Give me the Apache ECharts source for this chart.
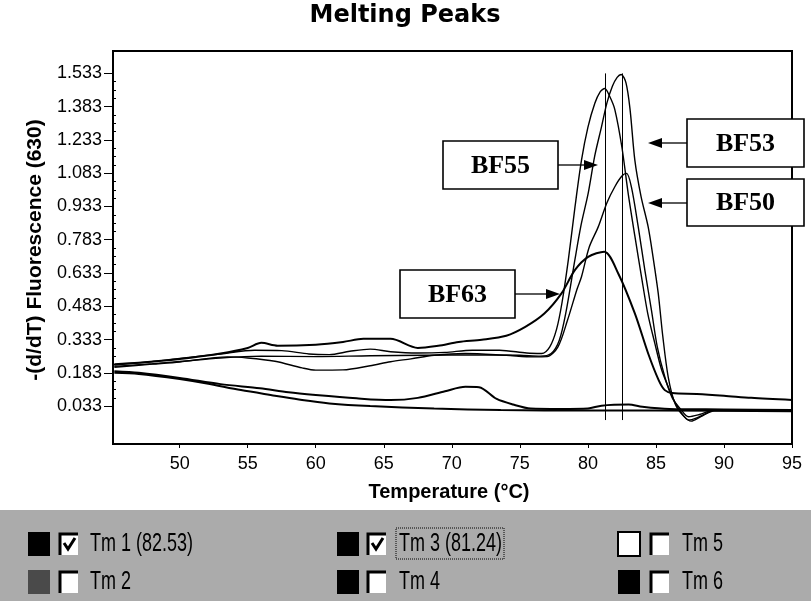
<!DOCTYPE html>
<html><head><meta charset="utf-8">
<script src="https://cdn.jsdelivr.net/npm/echarts@6/dist/echarts.min.js"></script>
<style>html,body{margin:0;padding:0;background:#fff}#c{width:811px;height:601px}</style>
</head><body><div id="c"></div>
<script>
// ---- data ----
const yTicks = [0.033, 0.183, 0.333, 0.483, 0.633, 0.783, 0.933, 1.083, 1.233, 1.383, 1.533];
const xTicks = [50, 55, 60, 65, 70, 75, 80, 85, 90, 95];
const tmValues = [82.53, 81.24];

const bf53 = [[45.2,0.212],[48,0.224],[50,0.234],[53,0.25],[56,0.258],[60,0.256],[64,0.26],[68,0.262],[72,0.264],[75,0.262],[76.5,0.258],[77.3,0.27],[77.9,0.33],[78.4,0.46],[79.04,0.691],[79.5,0.85],[80.02,0.992],[80.5,1.16],[81.0,1.292],[81.4,1.4],[81.8,1.475],[82.15,1.515],[82.45,1.528],[82.8,1.49],[83.1,1.37],[83.45,1.142],[83.9,0.98],[84.43,0.841],[84.8,0.7],[85.17,0.541],[85.5,0.35],[85.9,0.165],[86.4,0.045],[87,-0.01],[87.6,-0.035],[88.3,-0.015],[89.3,0.012],[92,0.012],[95,0.01]];
const bf55 = [[45.2,0.218],[48,0.234],[50,0.248],[53,0.268],[55.5,0.285],[57.5,0.283],[59.5,0.268],[61,0.265],[62.5,0.28],[64,0.29],[65.5,0.278],[67.5,0.272],[69.5,0.275],[71.5,0.285],[73.5,0.285],[75.5,0.272],[76.6,0.27],[77.2,0.3],[77.7,0.38],[78.1,0.5],[78.56,0.691],[79.05,0.93],[79.53,1.142],[80.0,1.29],[80.51,1.398],[80.9,1.45],[81.24,1.465],[81.6,1.43],[81.98,1.37],[82.5,1.2],[82.96,0.992],[83.45,0.8],[83.94,0.616],[84.4,0.45],[84.92,0.316],[85.4,0.2],[85.9,0.12],[86.4,0.05],[86.9,0.0],[87.4,-0.03],[88,-0.02],[88.7,0.0],[89.3,0.015],[92,0.015],[95,0.012]];
const bf50 = [[45.2,0.208],[48,0.222],[50,0.232],[53.5,0.255],[55,0.25],[57,0.235],[59,0.205],[60,0.195],[62,0.196],[64,0.215],[65.5,0.233],[67,0.246],[68.7,0.262],[71,0.27],[74,0.262],[76,0.255],[77,0.256],[77.8,0.3],[78.5,0.42],[79.2,0.56],[79.53,0.616],[80.1,0.75],[80.76,0.841],[81.4,0.95],[81.98,1.022],[82.5,1.07],[82.84,1.082],[83.2,1.02],[83.7,0.841],[84.2,0.64],[84.67,0.466],[85.1,0.3],[85.65,0.165],[86.2,0.07],[86.8,0.02],[87.4,-0.015],[88.2,-0.005],[89.3,0.015],[92,0.015],[95,0.015]];
const bf63 = [[45.2,0.222],[47,0.228],[50,0.245],[53,0.27],[55,0.295],[56,0.318],[57.2,0.305],[60,0.31],[62,0.322],[63.5,0.336],[65.5,0.336],[67.5,0.295],[69,0.305],[70.5,0.322],[72.2,0.332],[74,0.35],[75.4,0.39],[76.8,0.45],[78.06,0.541],[79.04,0.646],[80.02,0.706],[81.2,0.729],[82.23,0.631],[83.45,0.451],[84.43,0.27],[85.2,0.15],[85.65,0.105],[86.2,0.092],[88,0.088],[90,0.08],[92,0.07],[95,0.06]];
const low1 = [[45.2,0.19],[47,0.183],[50,0.16],[53,0.132],[55.9,0.113],[58,0.095],[60,0.083],[63,0.068],[65.5,0.06],[67.5,0.07],[69.5,0.1],[71,0.12],[72,0.118],[73.3,0.065],[74.5,0.04],[75.8,0.022],[78,0.02],[80,0.022],[81,0.035],[83,0.04],[84,0.03],[86,0.02],[90,0.018],[95,0.015]];
const low2 = [[45.2,0.183],[47,0.178],[50,0.155],[52,0.135],[54.5,0.105],[57,0.08],[59,0.06],[61,0.045],[64,0.033],[68.7,0.022],[73.6,0.015],[80,0.013],[90,0.012],[95,0.01]];

const legendLabels = ['Tm 1 (82.53)', 'Tm 2', 'Tm 3 (81.24)', 'Tm 4', 'Tm 5', 'Tm 6'];
const legendChecked = [true, false, true, false, false, false];
const annotLabels = ['BF53', 'BF50', 'BF55', 'BF63'];

// ---- chart ----
const chart = echarts.init(document.getElementById('c'), null, {renderer: 'canvas'});
const FONT = 'Liberation Sans';

function mkSeries(name, data, w) {
  return {
    name, type: 'line', data, showSymbol: false, smooth: 0.3,
    lineStyle: {color: '#000', width: w}, silent: true, z: 3
  };
}
const series = [
  mkSeries('BF53', bf53, 1.4),
  mkSeries('BF55', bf55, 1.4),
  mkSeries('BF50', bf50, 1.4),
  mkSeries('BF63', bf63, 2),
  mkSeries('L1', low1, 2),
  mkSeries('L2', low2, 2)
];
series[0].markLine = {
  symbol: 'none', silent: true, animation: false,
  lineStyle: {color: '#000', width: 1, type: 'solid'},
  label: {show: false},
  data: tmValues.map(t => [{coord: [t, -0.03]}, {coord: [t, 1.533]}])
};

const minorTicks = [];
for (let i = 0; i < yTicks.length - 1; i++) {
  for (let k = 1; k < 4; k++) minorTicks.push(yTicks[i] + (yTicks[i+1]-yTicks[i]) * k / 4);
}

// graphics
const g = [];
g.push({type:'text', x:405, y:16, z:100, style:{text:'Melting Peaks', font:'bold 24px "DejaVu Sans"', fill:'#000', textAlign:'center', textVerticalAlign:'middle'}});
g.push({type:'text', x:35, y:250, rotation:Math.PI/2, z:100, style:{text:'-(d/dT) Fluorescence (630)', font:'bold 21px "Liberation Sans"', fill:'#000', textAlign:'center', textVerticalAlign:'middle'}});
g.push({type:'text', x:449, y:492, z:100, style:{text:'Temperature (\u00B0C)', font:'bold 20px "Liberation Sans"', fill:'#000', textAlign:'center', textVerticalAlign:'middle'}});

// annotation boxes + arrows
const annot = [
  {box:[687,119,117,48], arrowFrom:[687,143], tip:[648,143]},
  {box:[687,179,117,47], arrowFrom:[687,203], tip:[648,203]},
  {box:[443,141,115,48], arrowFrom:[558,165], tip:[598,165]},
  {box:[400,270,115,48], arrowFrom:[515,294], tip:[560,294]}
];
annot.forEach((a, i) => {
  const [bx, by, bw, bh] = a.box;
  g.push({type:'rect', z:100, shape:{x:bx, y:by, width:bw, height:bh}, style:{fill:'#fff', stroke:'#000', lineWidth:1.6}});
  g.push({type:'text', z:101, x:bx + bw/2, y:by + bh/2 + 1, style:{text:annotLabels[i], font:'bold 26px "Liberation Serif"', fill:'#000', textAlign:'center', textVerticalAlign:'middle'}});
  const dir = a.tip[0] < a.arrowFrom[0] ? 1 : -1;
  const hx = a.tip[0] + dir * 14;
  g.push({type:'line', z:100, shape:{x1:a.arrowFrom[0], y1:a.arrowFrom[1], x2:hx, y2:a.tip[1]}, style:{stroke:'#000', lineWidth:1.3}});
  g.push({type:'polygon', z:100, shape:{points:[[a.tip[0], a.tip[1]], [hx, a.tip[1]-5], [hx, a.tip[1]+5]]}, style:{fill:'#000'}});
});

// legend panel
g.push({type:'rect', z:90, shape:{x:0, y:510, width:811, height:91}, style:{fill:'#ababab'}});
const cols = [[28, 59, 90], [337, 367, 399], [618, 650, 682]];
const rows = [532, 570];
const swatch = ['#000', '#4a4a4a', '#000', '#000', '#fff', '#000'];
legendLabels.forEach((lab, i) => {
  const c = cols[Math.floor(i / 2)], ry = rows[i % 2];
  const sw = swatch[i];
  g.push({type:'rect', z:95, shape:{x:c[0], y:ry, width:22, height:24}, style:{fill:sw, stroke: sw === '#fff' ? '#000' : null, lineWidth:2}});
  g.push({type:'rect', z:95, shape:{x:c[1], y:ry+1, width:19, height:22}, style:{fill:'#fff'}});
  g.push({type:'polyline', z:96, shape:{points:[[c[1]+1, ry+23], [c[1]+1, ry+2], [c[1]+19, ry+2]]}, style:{stroke:'#000', lineWidth:3, fill:null}});
  if (legendChecked[i]) {
    g.push({type:'polyline', z:96, shape:{points:[[c[1]+5, ry+11], [c[1]+9, ry+17], [c[1]+16, ry+6]]}, style:{stroke:'#000', lineWidth:3, fill:null}});
  }
  g.push({type:'text', z:96, x:c[2], y:ry+12, scaleX:0.72, style:{text:lab, font:'25px "Liberation Sans"', fill:'#000', textAlign:'left', textVerticalAlign:'middle'}});
  if (i === 2) {
    g.push({type:'rect', z:96, shape:{x:c[2]-3, y:ry-4, width:108, height:31}, style:{fill:null, stroke:'#000', lineWidth:1, lineDash:[1,1]}});
  }
});

const option = {
  animation: false,
  backgroundColor: '#fff',
  grid: {left: 113, right: 19, top: 51, bottom: 157, show: true, borderColor: '#000', borderWidth: 2, backgroundColor: 'transparent'},
  xAxis: {
    type: 'value', min: 45.1, max: 95,
    axisLine: {show: true, onZero: false, lineStyle: {color: '#000', width: 2}},
    axisTick: {show: true, inside: false, length: 4, customValues: xTicks, lineStyle: {color: '#000', width: 1}},
    axisLabel: {show: true, customValues: xTicks, margin: 11, color: '#000', fontFamily: FONT, fontSize: 18},
    splitLine: {show: false}
  },
  yAxis: [{
    type: 'value', min: -0.138, max: 1.634,
    axisLine: {show: true, onZero: false, lineStyle: {color: '#000', width: 2}},
    axisTick: {show: true, inside: false, length: 9, customValues: yTicks, lineStyle: {color: '#000', width: 1}},
    axisLabel: {show: true, customValues: yTicks, margin: 11, color: '#000', fontFamily: FONT, fontSize: 18, formatter: v => Number(v).toFixed(3)},
    splitLine: {show: false}
  }, {
    type: 'value', min: -0.138, max: 1.634, position: 'left',
    axisLine: {show: false, onZero: false},
    axisTick: {show: true, inside: true, length: 3, customValues: minorTicks, lineStyle: {color: '#000', width: 1}},
    axisLabel: {show: false},
    splitLine: {show: false}
  }],
  series,
  graphic: g
};
chart.setOption(option);
</script></body></html>
